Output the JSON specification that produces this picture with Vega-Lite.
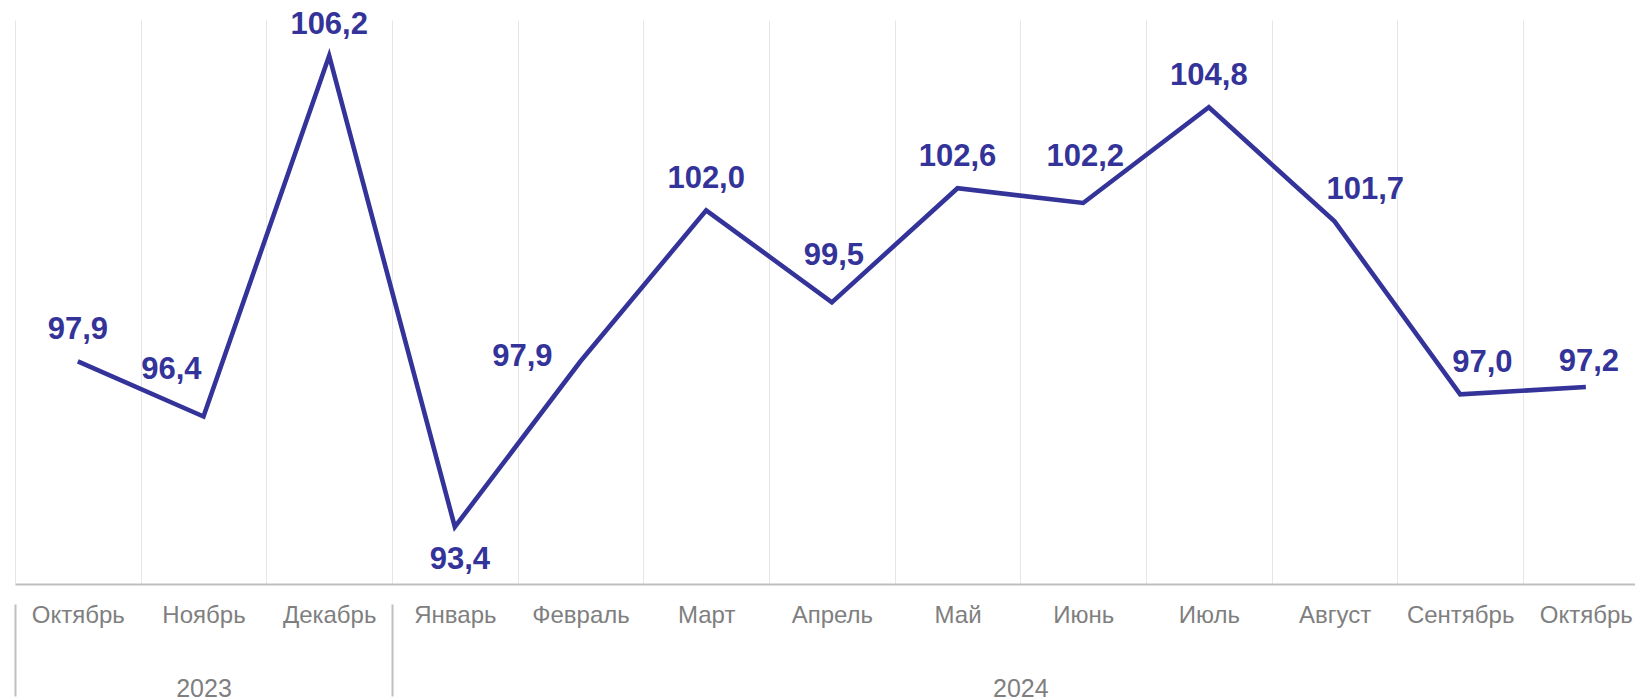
{
  "$schema": "https://vega.github.io/schema/vega-lite/v6.json",
  "autosize": {"type": "none"},
  "width": 1620,
  "height": 564,
  "padding": {"left": 15, "top": 20, "right": 0, "bottom": 114},
  "config": {
    "view": {"stroke": null},
    "font": "Liberation Sans",
    "locale": {"number": {"decimal": ",", "thousands": " ", "grouping": [3], "currency": ["", " ₽"]}}
  },
  "layer": [
    {
      "data": {"values": [
        {"period": "Октябрь 2023", "value": 97.9},
        {"period": "Ноябрь 2023", "value": 96.4},
        {"period": "Декабрь 2023", "value": 106.2},
        {"period": "Январь 2024", "value": 93.4},
        {"period": "Февраль 2024", "value": 97.9},
        {"period": "Март 2024", "value": 102.0},
        {"period": "Апрель 2024", "value": 99.5},
        {"period": "Май 2024", "value": 102.6},
        {"period": "Июнь 2024", "value": 102.2},
        {"period": "Июль 2024", "value": 104.8},
        {"period": "Август 2024", "value": 101.7},
        {"period": "Сентябрь 2024", "value": 97.0},
        {"period": "Октябрь 2024", "value": 97.2}
      ]},
      "encoding": {
        "x": {
          "field": "period", "type": "ordinal", "sort": null,
          "scale": {"type": "band", "range": [0, 1633.7], "paddingInner": 0, "paddingOuter": 0},
          "axis": {
            "orient": "bottom", "title": null, "labelAngle": 0,
            "labelExpr": "datum.value ? split(datum.value, ' ')[0] : ''",
            "labelFont": "Liberation Sans", "labelFontSize": 24, "labelColor": "#7f7f7f",
            "labelPadding": 19, "labelOverlap": false, "labelFlush": false,
            "ticks": false, "domain": true, "domainColor": "#bfbfbf", "domainWidth": 2,
            "grid": true, "gridColor": "#e6e6e6", "gridWidth": 1, "tickBand": "extent"
          }
        },
        "y": {
          "field": "value", "type": "quantitative",
          "scale": {"domain": [91.85, 107.17], "nice": false, "zero": false},
          "axis": null
        }
      },
      "layer": [
        {"mark": {"type": "line", "color": "#333399", "strokeWidth": 4.6, "strokeJoin": "miter"}},
        {
          "transform": [{"filter": {"field": "period", "oneOf": ["Октябрь 2023", "Декабрь 2023", "Март 2024", "Май 2024", "Июль 2024"]}}],
          "mark": {"type": "text", "dy": -31, "font": "Liberation Sans", "fontSize": 31, "fontWeight": "bold", "color": "#333399"},
          "encoding": {"text": {"field": "value", "type": "quantitative", "format": ".1f"}}
        },
        {
          "transform": [{"filter": {"field": "period", "oneOf": ["Апрель 2024", "Июнь 2024"]}}],
          "mark": {"type": "text", "dy": -46, "dx": 2, "font": "Liberation Sans", "fontSize": 31, "fontWeight": "bold", "color": "#333399"},
          "encoding": {"text": {"field": "value", "type": "quantitative", "format": ".1f"}}
        },
        {
          "transform": [{"filter": {"field": "period", "oneOf": ["Ноябрь 2023"]}}],
          "mark": {"type": "text", "align": "right", "dy": -46, "dx": -2, "font": "Liberation Sans", "fontSize": 31, "fontWeight": "bold", "color": "#333399"},
          "encoding": {"text": {"field": "value", "type": "quantitative", "format": ".1f"}}
        },
        {
          "transform": [{"filter": {"field": "period", "oneOf": ["Август 2024", "Сентябрь 2024"]}}],
          "mark": {"type": "text", "align": "left", "dy": -31, "dx": -8, "font": "Liberation Sans", "fontSize": 31, "fontWeight": "bold", "color": "#333399"},
          "encoding": {"text": {"field": "value", "type": "quantitative", "format": ".1f"}}
        },
        {
          "transform": [{"filter": {"field": "period", "oneOf": ["Январь 2024"]}}],
          "mark": {"type": "text", "dy": 33, "dx": 5, "font": "Liberation Sans", "fontSize": 31, "fontWeight": "bold", "color": "#333399"},
          "encoding": {"text": {"field": "value", "type": "quantitative", "format": ".1f"}}
        },
        {
          "transform": [{"filter": {"field": "period", "oneOf": ["Февраль 2024"]}}],
          "mark": {"type": "text", "align": "right", "dy": -4, "dx": -28, "font": "Liberation Sans", "fontSize": 31, "fontWeight": "bold", "color": "#333399"},
          "encoding": {"text": {"field": "value", "type": "quantitative", "format": ".1f"}}
        },
        {
          "transform": [{"filter": {"field": "period", "oneOf": ["Октябрь 2024"]}}],
          "mark": {"type": "text", "dy": -25, "dx": 3, "font": "Liberation Sans", "fontSize": 31, "fontWeight": "bold", "color": "#333399"},
          "encoding": {"text": {"field": "value", "type": "quantitative", "format": ".1f"}}
        }
      ]
    },
    {
      "data": {"values": [
        {"year": "2023", "start": 0, "end": 3},
        {"year": "2024", "start": 3, "end": 13}
      ]},
      "mark": {"type": "rule", "strokeOpacity": 0},
      "encoding": {
        "x": {
          "field": "start", "type": "quantitative",
          "scale": {"domain": [0, 13], "range": [0, 1633.7], "nice": false, "zero": false},
          "axis": {
            "orient": "bottom", "title": null, "offset": 20,
            "values": [0, 1.5, 3, 8],
            "labelExpr": "datum.value == 1.5 ? '2023' : (datum.value == 8 ? '2024' : '')",
            "labelFont": "Liberation Sans", "labelFontSize": 25, "labelColor": "#7f7f7f",
            "labelPadding": -19.5, "labelOverlap": false, "labelFlush": false, "labelBaseline": "top",
            "ticks": true, "tickSize": 92, "tickWidth": 2,
            "tickColor": {"condition": {"test": "datum.value == 0 || datum.value == 3", "value": "#bfbfbf"}, "value": "transparent"},
            "domain": false, "grid": false
          }
        }
      }
    }
  ],
  "resolve": {"scale": {"x": "independent"}, "axis": {"x": "independent"}}
}
